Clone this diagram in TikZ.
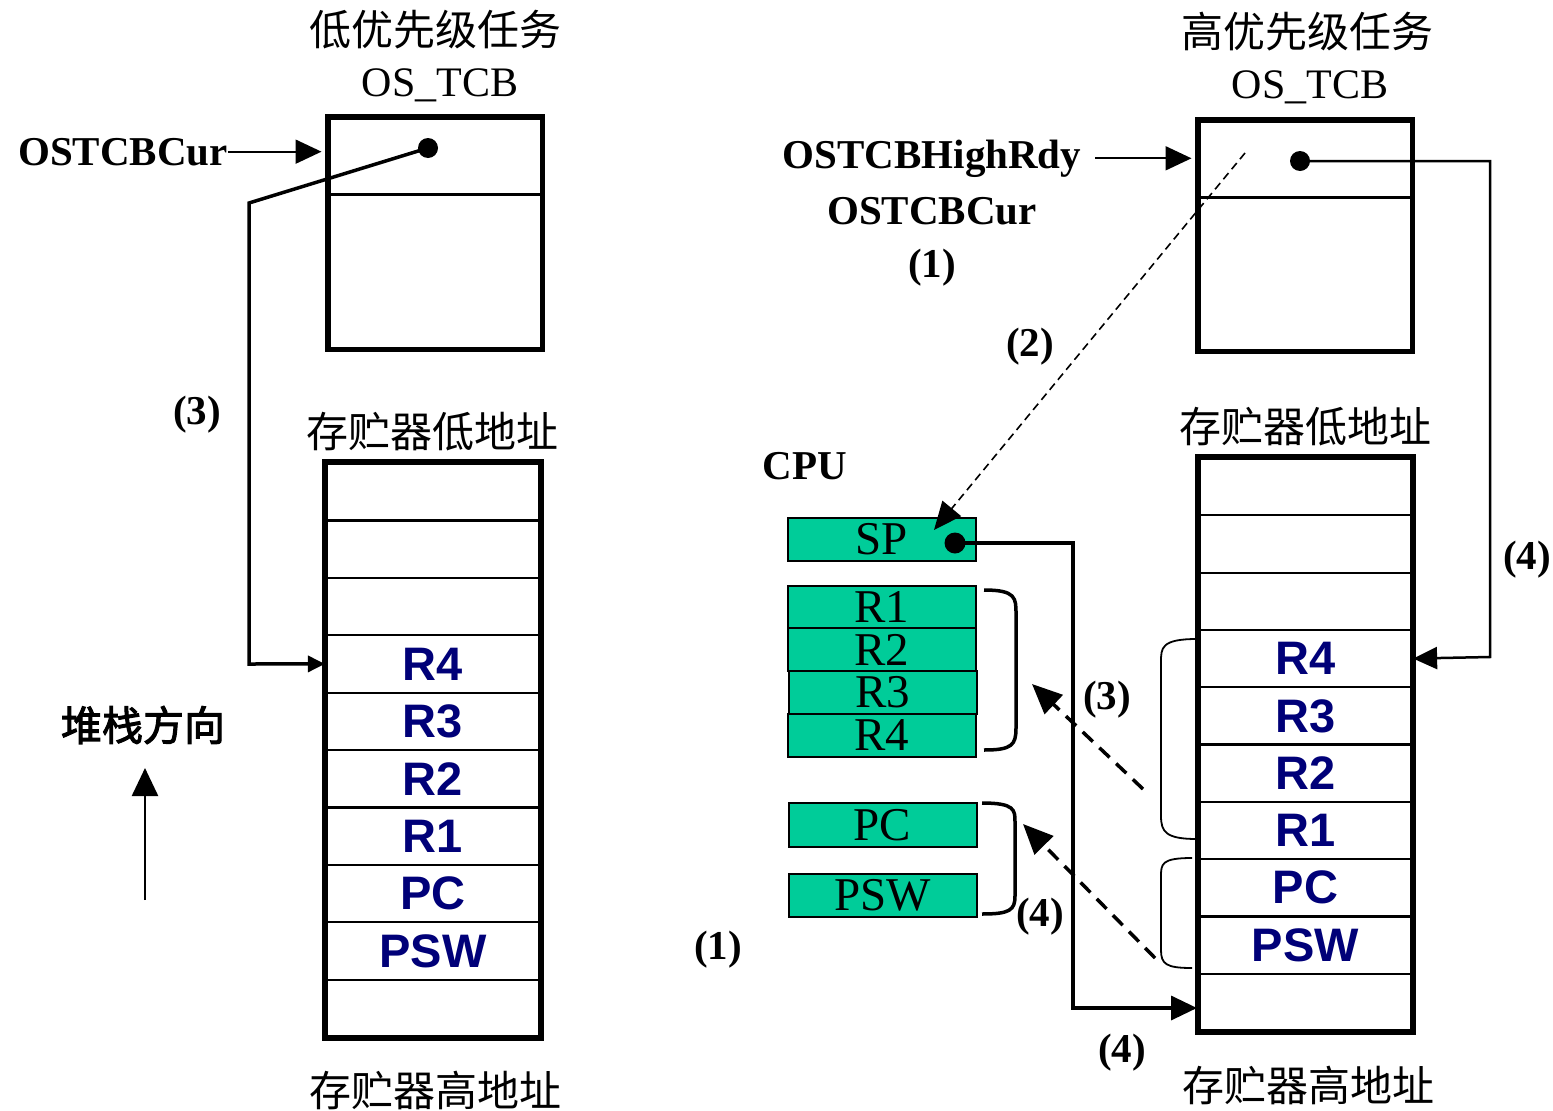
\documentclass[tikz,border=0pt]{standalone}
\usepackage{fontspec}
\setmainfont{Liberation Serif}
\newfontfamily\arialf{Liberation Sans}
\newfontfamily\cjk{Noto Sans CJK SC}
\newfontfamily\cjkb{Noto Sans CJK SC}[FakeBold=2.5]
\usetikzlibrary{arrows.meta}
\definecolor{regnavy}{RGB}{0,0,120}
\definecolor{cpugreen}{RGB}{0,204,153}
\newcommand{\fsz}[1]{\fontsize{#1}{#1}\selectfont}
\begin{document}
\begin{tikzpicture}[x=1pt,y=-1pt,
  cell/.style={draw, line width=2.2pt, minimum width=214pt, minimum height=57.4pt, inner sep=0pt, text=regnavy, font=\arialf\bfseries\fsz{47}},
  tcbcell/.style={draw, line width=3pt, minimum width=212pt, inner sep=0pt},
  frame/.style={line width=5.5pt},
  reg/.style={draw, line width=2pt, fill=cpugreen, minimum width=188pt, minimum height=43pt, inner sep=0pt, font=\fsz{47}},
  blbl/.style={font=\bfseries\fsz{41}, inner sep=0pt},
  cjklbl/.style={font=\cjk\fsz{42}, inner sep=0pt},
  tnorm/.style={font=\fsz{42}, inner sep=0pt},
  dotc/.style={circle, fill=black, inner sep=0pt, minimum size=20pt},
  bigtip/.style={-{Triangle[length=26pt,width=24pt]}},
  dsharrow/.style={line width=3.5pt, dash pattern=on 14pt off 9pt, -{Triangle[length=30pt,width=26pt]}},
  bracestyle/.style={line width=3.5pt}
]
\useasboundingbox[fill=white] (0,0) rectangle (1553,1111);

% ---------- left side ----------
\node[cjklbl] (ltitle) at (435,30) {低优先级任务};
\node[tnorm] (ltcbname) at (440,85) {OS\_TCB};
\node[tcbcell, minimum height=76pt] (ltcbtop) at (435,156) {};
\node[tcbcell, minimum height=154pt] (ltcbbot) at (435,271) {};
\draw[frame] (ltcbtop.north west) rectangle (ltcbbot.south east);
\node[dotc] (ldot) at (428,148) {};

\node[blbl, anchor=base east] (lcur) at (228,165) {OSTCBCur};
\draw[line width=2pt, bigtip, shorten >=6pt] (lcur.east) -- (lcur.east -| ltcbtop.west);

\node[blbl] (l3) at (197,415) {(3)};
\node[cjklbl] (llow) at (432,432) {存贮器低地址};

\foreach \i/\t in {1/{},2/{},3/{},4/R4,5/R3,6/R2,7/R1,8/PC,9/PSW,10/{}}
  \node[cell] (ls\i) at (433,{463+57.4*(\i-0.5)}) {\t};
\draw[frame] (ls1.north west) rectangle (ls10.south east);
\node[cjklbl] (lhigh) at (435,1090) {存贮器高地址};

\coordinate (lb1) at (249,203);
\coordinate (lb2) at (249,664);
\draw[line width=3.5pt, -{Triangle[length=17pt,width=16pt]}] (ldot.center) -- (lb1) -- (lb2) -- (ls4.west);

\node[font=\cjkb\fsz{41}, inner sep=0pt] (dir) at (143,725) {堆栈方向};
\coordinate (upS) at (145,900);
\coordinate (upE) at (145,768);
\draw[line width=2.5pt, -{Triangle[length=28pt,width=26pt]}] (upS) -- (upE);

% ---------- right side ----------
\node[cjklbl] (rtitle) at (1307,32) {高优先级任务};
\node[tnorm] (rtcbname) at (1310,87) {OS\_TCB};
\node[tcbcell, minimum height=76pt] (rtcbtop) at (1305,159) {};
\node[tcbcell, minimum height=153pt] (rtcbbot) at (1305,273.5) {};
\draw[frame] (rtcbtop.north west) rectangle (rtcbbot.south east);
\node[dotc] (rdot) at (1300,161) {};

\node[blbl, anchor=base] (hr) at (932,168) {OSTCBHighRdy};
\node[blbl, anchor=base] (rcur) at (932,224) {OSTCBCur};
\node[blbl] (r1a) at (932,268) {(1)};
\draw[line width=2pt, bigtip, shorten <=14pt, shorten >=6pt] (hr.east) -- (hr.east -| rtcbtop.west);

\node[blbl] (r2) at (1030,347) {(2)};
\node[cjklbl] (rlow) at (1305,427) {存贮器低地址};
\node[blbl] (cpu) at (805,466) {CPU};

\foreach \i/\t in {1/{},2/{},3/{},4/R4,5/R3,6/R2,7/R1,8/PC,9/PSW,10/{}}
  \node[cell, minimum width=213pt, minimum height=57.3pt] (rs\i) at (1305.5,{458+57.3*(\i-0.5)}) {\t};
\draw[frame] (rs1.north west) rectangle (rs10.south east);
\node[cjklbl] (rhigh) at (1308,1085) {存贮器高地址};

% CPU registers
\node[reg] (sp) at (881.5,539.5) {SP};
\node[reg, minimum height=42pt] (cr1) at (882,607) {R1};
\node[reg] (cr2) at (881.5,649.5) {R2};
\node[reg] (cr3) at (882.5,692.5) {R3};
\node[reg] (cr4) at (882,735.5) {R4};
\node[reg, minimum height=44pt] (cpc) at (882.5,825) {PC};
\node[reg] (cpsw) at (882.5,895.5) {PSW};
\node[dotc, minimum size=21pt] (spdot) at (955,543) {};

% (4) from high TCB to stack
\coordinate (rb1) at (1490,161);
\coordinate (rb2) at (1490,657);
\draw[line width=2.5pt, -{Triangle[length=24pt,width=22pt]}] (rdot.center) -- (rb1) -- (rb2) -- (rs4.east);
\node[blbl] (r4a) at (1527,560) {(4)};

% (2) dashed from TCB to SP
\coordinate (dS) at (1245,153);
\coordinate (dE) at (934,530);
\draw[line width=1.6pt, dash pattern=on 8pt off 5pt, -{Triangle[length=28pt,width=24pt]}] (dS) -- (dE);

% SP to stack (4)
\coordinate (sb1) at (1073,543);
\coordinate (sb2) at (1073,1008);
\coordinate (spT) at (1197,1008);
\draw[line width=3.5pt, -{Triangle[length=26pt,width=24pt]}] (spdot.center) -- (sb1) -- (sb2) -- (spT);
\node[blbl] (r4c) at (1122,1053) {(4)};
\node[blbl] (r1b) at (718,950) {(1)};

% braces next to CPU registers
\draw[bracestyle] (984,590) .. controls (1016,590) and (1016,598) .. (1016,614)
  -- (1016,728) .. controls (1016,745) and (1012,750) .. (984,750);
\draw[bracestyle] (982,803) .. controls (1015,803) and (1015,810) .. (1015,822)
  -- (1015,896) .. controls (1015,910) and (1010,914) .. (982,914);

% braces next to high stack
\draw[line width=1.8pt] (1197,639) .. controls (1161,639) and (1161,648) .. (1161,662)
  -- (1161,816) .. controls (1161,832) and (1166,839) .. (1197,839);
\draw[line width=1.8pt] (1192,858) .. controls (1161,858) and (1161,864) .. (1161,877)
  -- (1161,950) .. controls (1161,964) and (1166,968) .. (1192,968);

% dashed restore arrows
\coordinate (d3S) at (1143,789);
\coordinate (d3E) at (1032,684);
\draw[dsharrow] (d3S) -- (d3E);
\node[blbl] (r3b) at (1107,700) {(3)};
\coordinate (d4S) at (1155,958);
\coordinate (d4E) at (1023,824);
\draw[dsharrow] (d4S) -- (d4E);
\node[blbl] (r4b) at (1040,917) {(4)};
\end{tikzpicture}
\end{document}
